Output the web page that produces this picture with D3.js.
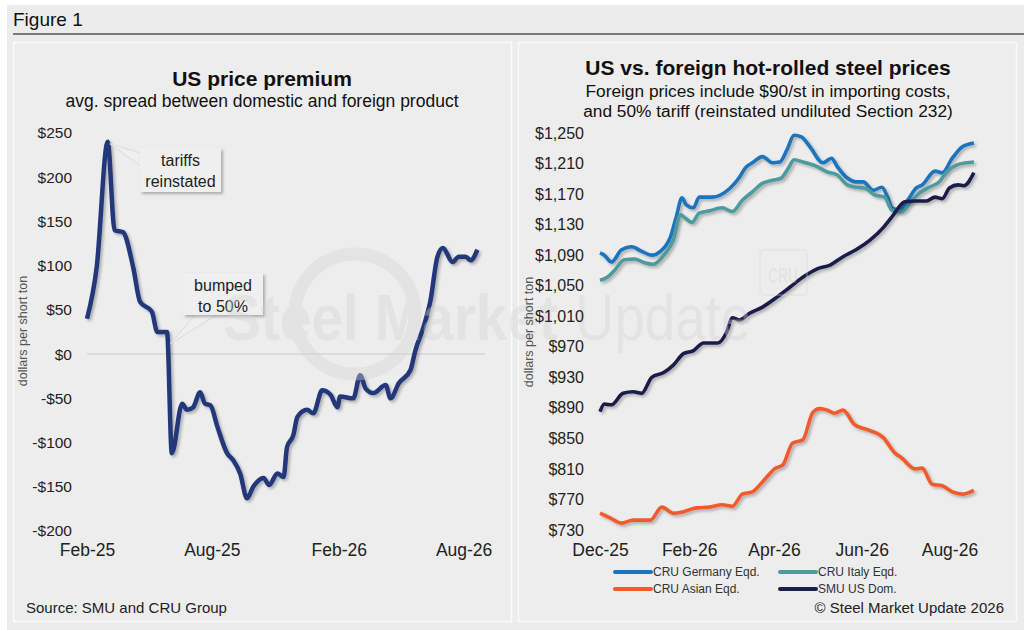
<!DOCTYPE html>
<html>
<head>
<meta charset="utf-8">
<script src="https://cdn.jsdelivr.net/npm/d3@7"></script>
<style>
  body { margin: 0; background: #fff; }
  svg { display: block; font-family: "Liberation Sans", Arial, sans-serif; }
</style>
</head>
<body>
<svg id="chart" width="1024" height="630"></svg>
<script>
// left panel: US price premium ($/st)
const premiumDates = ["2025-02-01","2025-02-15","2025-03-03","2025-03-13","2025-03-25","2025-04-09","2025-04-19",
  "2025-05-06","2025-05-14","2025-05-28","2025-06-04","2025-06-19","2025-06-26","2025-07-05","2025-07-15",
  "2025-07-22","2025-07-30","2025-08-09","2025-08-23","2025-09-01","2025-09-11","2025-09-21","2025-09-30",
  "2025-10-15","2025-10-23","2025-11-04","2025-11-13","2025-11-18","2025-11-27","2025-12-03","2025-12-17",
  "2025-12-26","2026-01-08","2026-01-20","2026-01-30","2026-02-03","2026-02-22","2026-03-04","2026-03-12",
  "2026-03-23","2026-04-10","2026-04-17","2026-04-29","2026-05-16","2026-05-23","2026-06-04","2026-06-14",
  "2026-06-24","2026-07-02","2026-07-16","2026-07-25","2026-08-04","2026-08-11","2026-08-21"];
const premiumValues = [40, 98, 240, 140, 138, 98, 59, 48, 25, 25, -112, -56, -63, -60, -43, -56, -58, -82, -112,
  -120, -135, -163, -150, -140, -148, -135, -139, -105, -92, -71, -63, -67, -41, -46, -60, -48, -50, -24, -39,
  -44, -35, -50, -33, -18, 4, 31, 61, 110, 120, 104, 110, 110, 106, 118];
const premiumTicks = [-200, -150, -100, -50, 0, 50, 100, 150, 200, 250];
const premiumMonths = ["2025-02-01", "2025-08-01", "2026-02-01", "2026-08-01"];

// right panel: hot-rolled prices ($/st)
const germanyDates = ["2025-12-01","2025-12-04","2025-12-09","2025-12-16","2025-12-23","2025-12-30","2026-01-06",
  "2026-01-12","2026-01-19","2026-01-23","2026-01-27","2026-01-30","2026-02-04","2026-02-08","2026-02-17",
  "2026-03-01","2026-03-08","2026-03-12","2026-03-17","2026-03-24","2026-03-31","2026-04-05","2026-04-10",
  "2026-04-15","2026-04-20","2026-04-26","2026-05-05","2026-05-11","2026-05-15","2026-05-22","2026-05-28",
  "2026-06-02","2026-06-09","2026-06-15","2026-06-19","2026-06-22","2026-06-27","2026-07-03","2026-07-09",
  "2026-07-13","2026-07-22","2026-07-27","2026-08-03","2026-08-10","2026-08-18"];
const germanyValues = [1093, 1090, 1081, 1097, 1101, 1095, 1090, 1095, 1114, 1140, 1165, 1156, 1152, 1166, 1166,
  1177, 1192, 1204, 1211, 1219, 1211, 1212, 1228, 1247, 1245, 1232, 1211, 1217, 1206, 1191, 1186, 1186, 1175,
  1179, 1166, 1152, 1149, 1162, 1178, 1182, 1200, 1198, 1217, 1232, 1237];

const italyDates = ["2025-12-01","2025-12-06","2025-12-11","2025-12-18","2025-12-25","2026-01-01","2026-01-07",
  "2026-01-14","2026-01-21","2026-01-26","2026-01-29","2026-02-03","2026-02-08","2026-02-15","2026-02-24",
  "2026-03-03","2026-03-10","2026-03-17","2026-03-24","2026-03-31","2026-04-06","2026-04-11","2026-04-15",
  "2026-04-21","2026-05-01","2026-05-08","2026-05-15","2026-05-22","2026-05-28","2026-06-03","2026-06-10",
  "2026-06-17","2026-06-22","2026-06-29","2026-07-06","2026-07-11","2026-07-18","2026-07-25","2026-07-30",
  "2026-08-06","2026-08-13","2026-08-18"];
const italyValues = [1057, 1061, 1070, 1084, 1085, 1080, 1078, 1089, 1110, 1143, 1139, 1133, 1145, 1148, 1152,
  1147, 1162, 1173, 1184, 1188, 1191, 1204, 1215, 1212, 1206, 1199, 1195, 1182, 1179, 1178, 1169, 1166, 1149,
  1147, 1162, 1171, 1179, 1186, 1199, 1208, 1211, 1212];

const asianDates = ["2025-12-01","2025-12-08","2025-12-16","2025-12-24","2026-01-05","2026-01-13","2026-01-21",
  "2026-01-28","2026-02-06","2026-02-15","2026-02-24","2026-03-03","2026-03-10","2026-03-17","2026-03-24",
  "2026-04-02","2026-04-07","2026-04-14","2026-04-21","2026-04-28","2026-05-03","2026-05-08","2026-05-13",
  "2026-05-19","2026-05-27","2026-06-04","2026-06-16","2026-06-24","2026-06-29","2026-07-08","2026-07-13",
  "2026-07-20","2026-07-27","2026-08-03","2026-08-10","2026-08-18"];
const asianValues = [752, 746, 739, 743, 743, 760, 752, 754, 759, 760, 763, 761, 777, 780, 793, 811, 815, 844,
  848, 884, 889, 887, 883, 887, 868, 862, 851, 831, 824, 810, 811, 790, 788, 780, 777, 782];

const usDates = ["2025-12-01","2025-12-04","2025-12-09","2025-12-17","2025-12-24","2025-12-30","2026-01-06",
  "2026-01-14","2026-01-21","2026-01-28","2026-02-04","2026-02-11","2026-02-21","2026-02-27","2026-03-03",
  "2026-03-08","2026-03-15","2026-03-24","2026-04-03","2026-04-12","2026-04-21","2026-05-01","2026-05-10",
  "2026-05-19","2026-05-28","2026-06-07","2026-06-16","2026-06-22","2026-07-01","2026-07-08","2026-07-16",
  "2026-07-22","2026-07-27","2026-08-01","2026-08-07","2026-08-11","2026-08-18"];
const usValues = [885, 895, 894, 909, 911, 909, 930, 936, 946, 961, 965, 975, 975, 989, 1008, 1005, 1014, 1022,
  1035, 1048, 1061, 1072, 1077, 1088, 1097, 1110, 1126, 1140, 1160, 1161, 1161, 1166, 1164, 1178, 1182, 1181, 1198];

const priceTicks = [730, 770, 810, 850, 890, 930, 970, 1010, 1050, 1090, 1130, 1170, 1210, 1250];
const priceMonths = ["2025-12-01", "2026-02-01", "2026-04-01", "2026-06-01", "2026-08-01"];

const seriesNames = ["CRU Germany Eqd.", "CRU Italy Eqd.", "CRU Asian Eqd.", "SMU US Dom."];
const seriesColors = ["#1c75bc", "#4e9a9f", "#f15a2b", "#1b1f4b"];

const parse = d3.timeParse("%Y-%m-%d");
const svg = d3.select("#chart");

const defs = svg.append("defs");
const shadow = defs.append("filter").attr("id", "shadow")
  .attr("x", "-10%").attr("y", "-10%").attr("width", "130%").attr("height", "130%");
shadow.append("feDropShadow").attr("dx", 2).attr("dy", 2).attr("stdDeviation", 1.6)
  .attr("flood-color", "#000").attr("flood-opacity", 0.28);

// background + frame
svg.append("rect").attr("x", 7).attr("y", 5).attr("width", 1017).attr("height", 625).attr("fill", "#ececec");
svg.append("text").attr("x", 13).attr("y", 26).attr("font-size", 19).attr("fill", "#111").text("Figure 1");
svg.append("line").attr("x1", 13).attr("x2", 1024).attr("y1", 34).attr("y2", 34)
  .attr("stroke", "#555").attr("stroke-width", 1.5);
[13.5, 518.5].forEach(x => {
  svg.append("rect").attr("x", x).attr("y", 42.5).attr("width", 498).attr("height", 579)
    .attr("fill", "#ededed").attr("stroke", "#fafafa").attr("stroke-width", 1.5);
});

function money(v) {
  return v < 0 ? "-$" + d3.format(",")(-v) : "$" + d3.format(",")(v);
}

function styleAxis(g, size) {
  g.select(".domain").remove();
  g.selectAll("text").attr("font-size", size).attr("fill", "#222")
    .attr("font-family", "'Liberation Sans', Arial, sans-serif");
}

// faint watermark, drawn under the text but over the lines later
function watermark(parent) {
  const wm = parent.append("g").attr("fill", "#d4d4d4").attr("opacity", 0.38);
  wm.append("circle").attr("cx", 355).attr("cy", 314).attr("r", 60)
    .attr("fill", "none").attr("stroke", "#d4d4d4").attr("stroke-width", 13);
  wm.append("text").attr("x", 223).attr("y", 340).attr("font-size", 64).attr("font-weight", "bold")
    .attr("textLength", 335).attr("lengthAdjust", "spacingAndGlyphs").text("Steel Market");
  wm.append("text").attr("x", 575).attr("y", 340).attr("font-size", 64).attr("font-weight", 300)
    .attr("textLength", 176).attr("lengthAdjust", "spacingAndGlyphs").text("Update");
  wm.append("rect").attr("x", 760).attr("y", 250).attr("width", 47).attr("height", 45).attr("rx", 4)
    .attr("fill", "none").attr("stroke", "#d4d4d4").attr("stroke-width", 1.5);
  wm.append("text").attr("x", 783).attr("y", 283).attr("text-anchor", "middle").attr("font-size", 22)
    .attr("font-weight", "bold").attr("textLength", 30).attr("lengthAdjust", "spacingAndGlyphs").text("CRU");
}

// ---------- left chart ----------
const xL = d3.scaleTime().domain([parse("2025-02-01"), parse("2026-09-01")]).range([87, 485]);
const yL = d3.scaleLinear().domain([-200, 250]).range([531, 133]);

svg.append("text").attr("x", 262).attr("y", 86).attr("text-anchor", "middle")
  .attr("font-size", 21).attr("font-weight", "bold").attr("fill", "#111").text("US price premium");
svg.append("text").attr("x", 262).attr("y", 107).attr("text-anchor", "middle")
  .attr("font-size", 17.5).attr("fill", "#111").text("avg. spread between domestic and foreign product");

svg.append("line").attr("x1", xL.range()[0]).attr("x2", xL.range()[1])
  .attr("y1", yL(0)).attr("y2", yL(0)).attr("stroke", "#d4d4d4").attr("stroke-width", 1.5);

svg.append("g").attr("transform", `translate(${xL.range()[0]},0)`)
  .call(d3.axisLeft(yL).tickValues(premiumTicks).tickSize(0).tickPadding(15).tickFormat(money))
  .call(g => styleAxis(g, 15.5));
svg.append("g").attr("transform", `translate(0,${yL.range()[0]})`)
  .call(d3.axisBottom(xL).tickValues(premiumMonths.map(parse)).tickSize(0).tickPadding(13)
    .tickFormat(d3.timeFormat("%b-%y")))
  .call(g => styleAxis(g, 17.5));

svg.append("text").attr("transform", "translate(27,331) rotate(-90)").attr("text-anchor", "middle")
  .attr("font-size", 12.5).attr("fill", "#555").text("dollars per short ton");

const premium = premiumDates.map((d, i) => ({ date: parse(d), value: premiumValues[i] }));
svg.append("path").datum(premium)
  .attr("fill", "none").attr("stroke", "#23377a").attr("stroke-width", 4.5)
  .attr("stroke-linejoin", "round").attr("filter", "url(#shadow)")
  .attr("d", d3.line().x(d => xL(d.date)).y(d => yL(d.value)).curve(d3.curveMonotoneX));

// callouts
function callout(box, tip, base, lines) {
  const [bx, by, bw, bh] = box;
  svg.append("path")
    .attr("d", `M${tip[0]},${tip[1]}L${base[0][0]},${base[0][1]}L${base[1][0]},${base[1][1]}Z`)
    .attr("fill", "#efefef").attr("stroke", "#d6d6d6").attr("stroke-width", 0.8);
  svg.append("rect").attr("x", bx).attr("y", by).attr("width", bw).attr("height", bh)
    .attr("fill", "#efefef").attr("filter", "url(#shadow)");
  lines.forEach((t, i) => {
    svg.append("text").attr("x", bx + bw / 2).attr("y", by + 18 + i * 21).attr("text-anchor", "middle")
      .attr("font-size", 16).attr("fill", "#222").text(t);
  });
}
const peak = premium[d3.maxIndex(premium, d => d.value)];
callout([140, 148, 81, 44], [xL(peak.date) + 2, yL(peak.value) + 2], [[141, 153], [141, 166]],
  ["tariffs", "reinstated"]);
const bump = premium[9];
callout([183, 273, 80, 42], [xL(bump.date) + 3, yL(bump.value) + 12], [[196, 314], [218, 314]],
  ["bumped", "to 50%"]);

svg.append("text").attr("x", 26).attr("y", 613).attr("font-size", 15).attr("fill", "#222")
  .text("Source: SMU and CRU Group");

// ---------- right chart ----------
const xR = d3.scaleTime().domain([parse("2025-12-01"), parse("2026-09-01")]).range([600, 994]);
const yR = d3.scaleLinear().domain([730, 1250]).range([530, 133]);

svg.append("text").attr("x", 768).attr("y", 75).attr("text-anchor", "middle")
  .attr("font-size", 21).attr("font-weight", "bold").attr("fill", "#111")
  .text("US vs. foreign hot-rolled steel prices");
["Foreign prices include $90/st in importing costs,", "and 50% tariff (reinstated undiluted Section 232)"]
  .forEach((t, i) => {
    svg.append("text").attr("x", 768).attr("y", 97 + i * 20).attr("text-anchor", "middle")
      .attr("font-size", 17.3).attr("fill", "#111").text(t);
  });

const priceSeries = [
  [germanyDates, germanyValues],
  [italyDates, italyValues],
  [asianDates, asianValues],
  [usDates, usValues]
].map(([dates, values]) => dates.map((d, i) => ({ date: parse(d), value: values[i] })));

const priceLine = d3.line().x(d => xR(d.date)).y(d => yR(d.value)).curve(d3.curveMonotoneX);
svg.append("g").selectAll("path").data(priceSeries).join("path")
  .attr("fill", "none").attr("stroke", (d, i) => seriesColors[i]).attr("stroke-width", 3.6)
  .attr("stroke-linejoin", "round").attr("filter", "url(#shadow)")
  .attr("d", priceLine);

watermark(svg);

svg.append("g").attr("transform", `translate(${xR.range()[0]},0)`)
  .call(d3.axisLeft(yR).tickValues(priceTicks).tickSize(0).tickPadding(16).tickFormat(money))
  .call(g => styleAxis(g, 16));
svg.append("g").attr("transform", `translate(0,${yR.range()[0]})`)
  .call(d3.axisBottom(xR).tickValues(priceMonths.map(parse)).tickSize(0).tickPadding(14)
    .tickFormat(d3.timeFormat("%b-%y")))
  .call(g => styleAxis(g, 17.5));

svg.append("text").attr("transform", "translate(533,332) rotate(-90)").attr("text-anchor", "middle")
  .attr("font-size", 12.5).attr("fill", "#555").text("dollars per short ton");

// legend, two columns
const legend = svg.append("g").selectAll("g").data(seriesNames).join("g")
  .attr("transform", (d, i) => `translate(${i % 2 ? 780 : 615},${i < 2 ? 572 : 589})`);
legend.append("line").attr("x1", 0).attr("x2", 36).attr("stroke", (d, i) => seriesColors[i])
  .attr("stroke-width", 4).attr("stroke-linecap", "round");
legend.append("text").attr("x", 38).attr("y", 4).attr("font-size", 12).attr("fill", "#333").text(d => d);

svg.append("text").attr("x", 1004).attr("y", 613).attr("text-anchor", "end")
  .attr("font-size", 15).attr("fill", "#222").text("\u00a9 Steel Market Update 2026");
</script>
</body>
</html>
